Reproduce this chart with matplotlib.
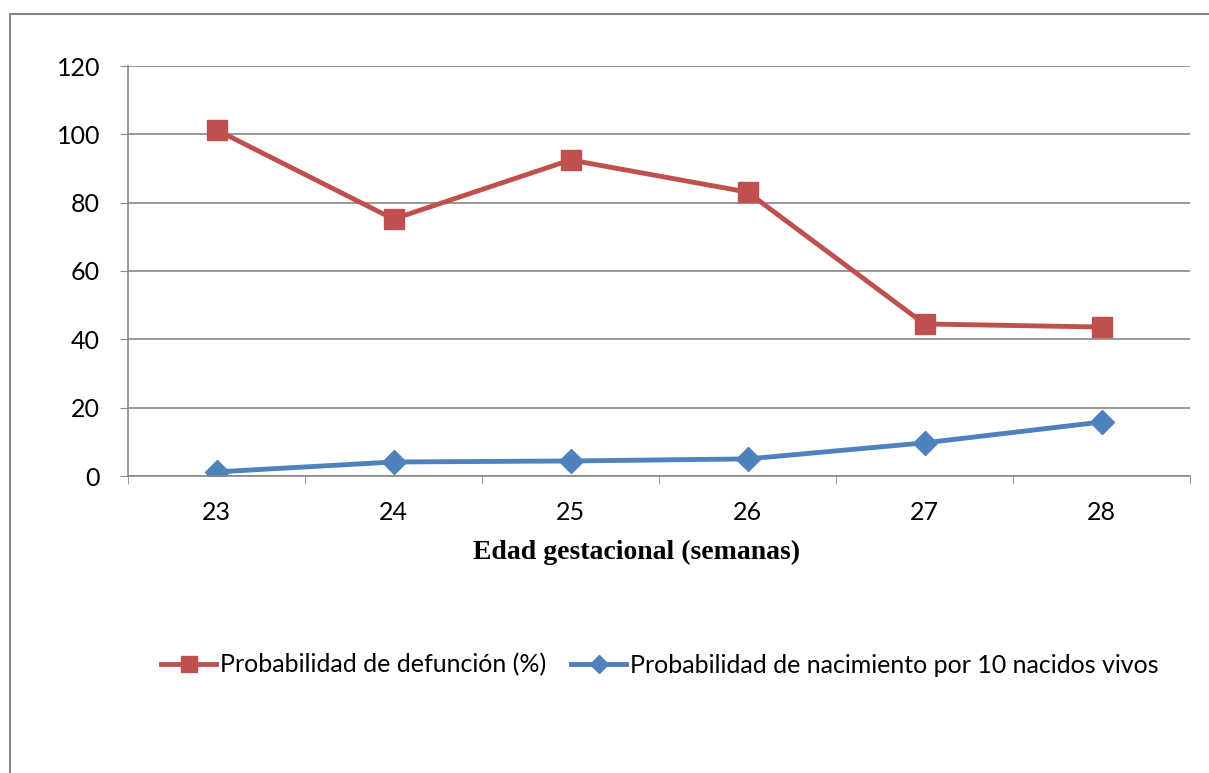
import matplotlib
matplotlib.use("Agg")
import matplotlib.pyplot as plt
from matplotlib.patches import Rectangle

# Data
semanas = [23, 24, 25, 26, 27, 28]
defuncion = [101.3, 75.2, 92.5, 83.1, 44.5, 43.6]
nacimiento = [1.2, 4.1, 4.4, 5.0, 9.7, 15.8]
yticks = [0, 20, 40, 60, 80, 100, 120]

W, H = 1209, 773
fig = plt.figure(figsize=(W / 100, H / 100), dpi=100)
fig.patch.set_facecolor('white')

# outer chart border (Excel style)
fig.patches.append(Rectangle((10 / W, -0.2), 1.2, 1.2 - 14 / H,
                             transform=fig.transFigure, fill=False,
                             edgecolor='#868686', linewidth=1.5))

ax = fig.add_axes([128 / W, 1 - 476 / H, (1190 - 128) / W, (476 - 66) / H])

x = list(range(len(semanas)))
ax.plot(x, defuncion, color='#C0504D', linewidth=3.5, marker='s', markersize=14,
        label='Probabilidad de defunción (%)')
ax.plot(x, nacimiento, color='#4F81BD', linewidth=3.5, marker='D', markersize=12,
        label='Probabilidad de nacimiento por 10 nacidos vivos')

ax.set_xlim(-0.5, len(semanas) - 0.5)
ax.set_ylim(0, 120)
ax.set_yticks(yticks)
ax.set_xticks(x)
ax.set_xticklabels([str(s) for s in semanas])
ax.set_xticks([i - 0.5 for i in range(len(semanas) + 1)], minor=True)

ax.grid(axis='y', color='#888888', linewidth=1.2)
ax.set_axisbelow(True)
for s in ['top', 'right']:
    ax.spines[s].set_visible(False)
for s in ['left', 'bottom']:
    ax.spines[s].set_color('#888888')
    ax.spines[s].set_linewidth(1.2)

ax.tick_params(axis='y', length=6, color='#888888', labelsize=18, pad=14)
ax.tick_params(axis='x', which='major', length=0, labelsize=18, pad=18)
ax.tick_params(axis='x', which='minor', length=6, color='#888888')
for lab in ax.get_xticklabels() + ax.get_yticklabels():
    lab.set_fontfamily('Lato')

fig.text(637 / W, 1 - 552 / H, 'Edad gestacional (semanas)', ha='center', va='center',
         fontsize=20, fontweight='bold', family='Liberation Serif')

fig.legend(loc='center', bbox_to_anchor=(660 / W, 1 - 665 / H), ncol=2, frameon=False,
           prop={'family': 'Lato', 'size': 18}, handlelength=2.2, handletextpad=0.15,
           columnspacing=1.0, markerscale=0.8)

fig.savefig('out.png', dpi=100)
